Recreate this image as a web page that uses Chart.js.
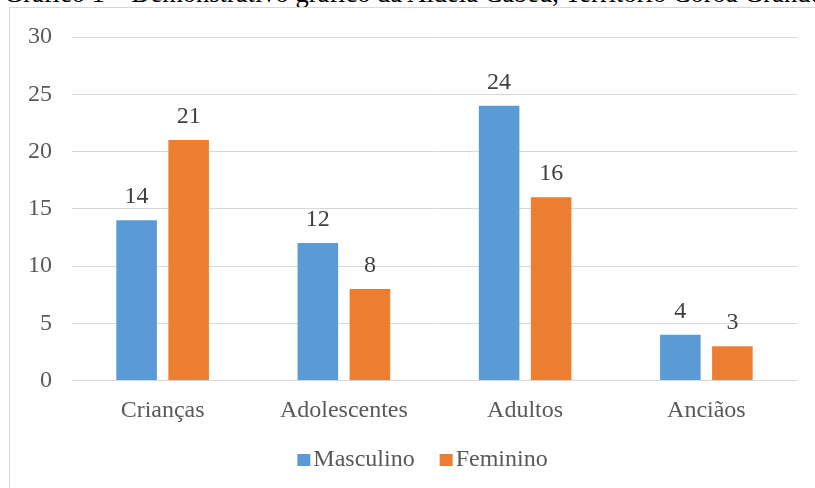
<!DOCTYPE html>
<html>
<head>
<meta charset="utf-8">
<script src="https://cdn.jsdelivr.net/npm/chart.js@4.4.0/dist/chart.umd.min.js"></script>
<style>
  html, body { margin: 0; padding: 0; background: #fff; overflow: hidden; }
  #wrap { position: relative; width: 815px; height: 488px; overflow: hidden; }
  #caption { position: absolute; left: 4px; top: -20px; font: 26.5px "Liberation Serif", "Times New Roman", serif; line-height: 26.5px; color: #000; white-space: nowrap; }
  #frame { position: absolute; left: 9px; top: 7px; width: 840px; height: 500px; border: 1px solid #d9d9d9; box-sizing: border-box; background: #fff; }
  #c { position: absolute; left: 0; top: 0; }
</style>
</head>
<body>
<div id="wrap">
  <div id="caption">Gráfico 1 – Demonstrativo gráfico da Aldeia Cabeu, Território Coroa Grande</div>
  <div id="frame"></div>
  <canvas id="c" width="815" height="488"></canvas>
</div>
<script>
const categories = ["Crianças", "Adolescentes", "Adultos", "Anciãos"];
const masculino = [14, 12, 24, 4];
const feminino = [21, 8, 16, 3];
const seriesNames = ["Masculino", "Feminino"];
const yTicks = [0, 5, 10, 15, 20, 25, 30];

const FONT = '"Liberation Serif", "Times New Roman", serif';

const valueLabels = {
  id: 'valueLabels',
  afterDatasetsDraw(chart) {
    const ctx = chart.ctx;
    ctx.save();
    ctx.font = '24px ' + FONT;
    ctx.fillStyle = '#404040';
    ctx.textAlign = 'center';
    ctx.textBaseline = 'alphabetic';
    chart.data.datasets.forEach((ds, i) => {
      const meta = chart.getDatasetMeta(i);
      meta.data.forEach((bar, j) => {
        ctx.fillText(String(ds.data[j]), bar.x, bar.y - 17);
      });
    });
    ctx.restore();
  }
};

const customLegend = {
  id: 'customLegend',
  afterDraw(chart) {
    const ctx = chart.ctx;
    ctx.save();
    ctx.font = '24px ' + FONT;
    ctx.textBaseline = 'alphabetic';
    ctx.textAlign = 'left';
    const box = 13, gap = 3, itemGap = 25;
    const items = chart.data.datasets.map(ds => ({
      label: ds.label, color: ds.backgroundColor, w: box + gap + ctx.measureText(ds.label).width
    }));
    const total = items.reduce((s, it) => s + it.w, 0) + itemGap * (items.length - 1);
    const center = (chart.chartArea.left + chart.chartArea.right) / 2 - 12;
    let x = center - total / 2;
    const baseY = 466;
    items.forEach(it => {
      ctx.fillStyle = it.color;
      ctx.fillRect(x, baseY - 12, box, 12);
      ctx.fillStyle = '#595959';
      ctx.fillText(it.label, x + box + gap, baseY);
      x += it.w + itemGap;
    });
    ctx.restore();
  }
};

new Chart(document.getElementById('c'), {
  type: 'bar',
  data: {
    labels: categories,
    datasets: [
      { label: seriesNames[0], data: masculino, backgroundColor: '#5b9bd5' },
      { label: seriesNames[1], data: feminino, backgroundColor: '#ed7d31' }
    ]
  },
  options: {
    responsive: false,
    animation: false,
    devicePixelRatio: 1,
    layout: { padding: { top: 37, right: 18, left: 0, bottom: 0 } },
    datasets: { bar: { barPercentage: 0.78, categoryPercentage: 0.574 } },
    plugins: { legend: { display: false }, tooltip: { enabled: false } },
    scales: {
      x: {
        grid: { display: false, drawTicks: false },
        border: { display: true, color: '#d9d9d9', width: 1 },
        ticks: { color: '#595959', font: { family: FONT, size: 24 }, padding: 16, maxRotation: 0 },
        afterFit(scale) { scale.height = 107.5; }
      },
      y: {
        min: 0, max: 30,
        afterBuildTicks(scale) { scale.ticks = yTicks.map(v => ({ value: v })); },
        grid: { color: '#d9d9d9', lineWidth: 1, drawTicks: false },
        border: { display: false },
        ticks: { color: '#595959', font: { family: FONT, size: 24 }, padding: 20 },
        afterFit(scale) { scale.width = 72; }
      }
    }
  },
  plugins: [valueLabels, customLegend]
});
</script>
</body>
</html>
